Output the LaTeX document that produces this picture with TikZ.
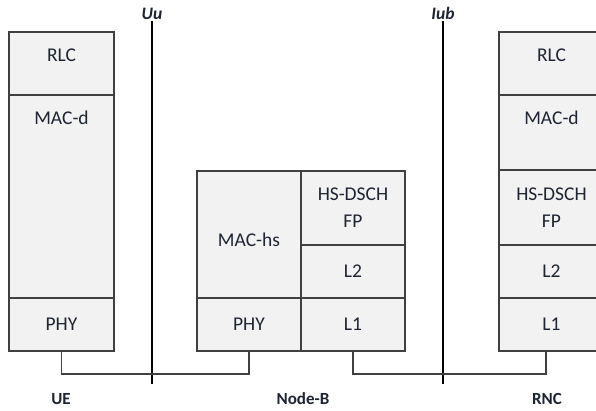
\documentclass[tikz,border=0pt]{standalone}
\usepackage{fontspec}
\setmainfont{Carlito}
\usetikzlibrary{positioning, calc}
\definecolor{cellfill}{RGB}{242,242,242}
\definecolor{cellline}{RGB}{64,64,64}
\definecolor{inktext}{RGB}{30,36,50}

\tikzset{
  layer/.style={draw=cellline, fill=cellfill, line width=1.2pt, minimum width=105pt,
    inner sep=0pt, outer sep=0pt, text=inktext, align=center,
    font=\fontsize{19.5}{27}\selectfont},
  toptext/.style={anchor=center, yshift=-23pt, text=inktext, align=center,
    font=\fontsize{19.5}{27}\selectfont},
  midtext/.style={anchor=center, yshift=-5pt, text=inktext, align=center,
    font=\fontsize{19.5}{27}\selectfont},
  ifacelabel/.style={anchor=south, inner sep=1pt, text=inktext,
    font=\fontsize{17.5}{20}\selectfont\bfseries\itshape},
  iface/.style={line width=2.8pt, black},
  link/.style={line width=1.2pt, cellline},
  entity/.style={text=inktext, font=\fontsize{17}{20}\selectfont\bfseries},
}

\begin{document}
\begin{tikzpicture}[x=1pt, y=-1pt]
  \fill[white] (0,0) rectangle (596,411);
  \useasboundingbox (0,0) rectangle (596,411);

  % UE stack
  \node[layer, anchor=north west, minimum height=63pt, label={[toptext]north:RLC}] (ue-rlc) at (9,32) {};
  \node[layer, below=0pt of ue-rlc, minimum height=203pt, label={[toptext]north:MAC-d}] (ue-macd) {};
  \node[layer, below=0pt of ue-macd, minimum height=53pt] (ue-phy) {PHY};

  % Node-B stack
  \node[layer, anchor=north west, minimum width=104pt, minimum height=127pt, label={[midtext]center:MAC-hs}] (nb-mac) at (197,171) {};
  \node[layer, below=0pt of nb-mac, minimum width=104pt, minimum height=53pt] (nb-phy) {PHY};
  \node[layer, anchor=north west, minimum width=104pt, minimum height=74pt] (nb-fp) at (nb-mac.north east) {HS-DSCH\\FP};
  \node[layer, below=0pt of nb-fp, minimum width=104pt, minimum height=53pt] (nb-l2) {L2};
  \node[layer, below=0pt of nb-l2, minimum width=104pt, minimum height=53pt] (nb-l1) {L1};

  % RNC stack
  \node[layer, anchor=north west, minimum height=63pt, label={[toptext]north:RLC}] (rnc-rlc) at (499,32) {};
  \node[layer, below=0pt of rnc-rlc, minimum height=75pt, label={[toptext]north:MAC-d}] (rnc-macd) {};
  \node[layer, below=0pt of rnc-macd, minimum height=75pt] (rnc-fp) {HS-DSCH\\FP};
  \node[layer, below=0pt of rnc-fp, minimum height=53pt] (rnc-l2) {L2};
  \node[layer, below=0pt of rnc-l2, minimum height=53pt] (rnc-l1) {L1};

  % interfaces
  \node[ifacelabel] (uu) at (152,21) {Uu};
  \coordinate (uu-end) at (152,384);
  \draw[iface] (uu.south) -- (uu-end);
  \node[ifacelabel] (iub) at (443,21) {Iub};
  \coordinate (iub-end) at (443,384);
  \draw[iface] (iub.south) -- (iub-end);

  % links
  \coordinate (rnc-tap) at ($(rnc-l1.south west)+(47,0)$);
  \draw[link] (ue-phy.south) -- ++(0,23) -| (nb-phy.south);
  \draw[link] (nb-l1.south) -- ++(0,23) -| (rnc-tap);

  \node[entity] (ue) at (61,399) {UE};
  \node[entity] (nb) at (303,399) {Node-B};
  \node[entity] (rnc) at (547,399) {RNC};
\end{tikzpicture}
\end{document}
